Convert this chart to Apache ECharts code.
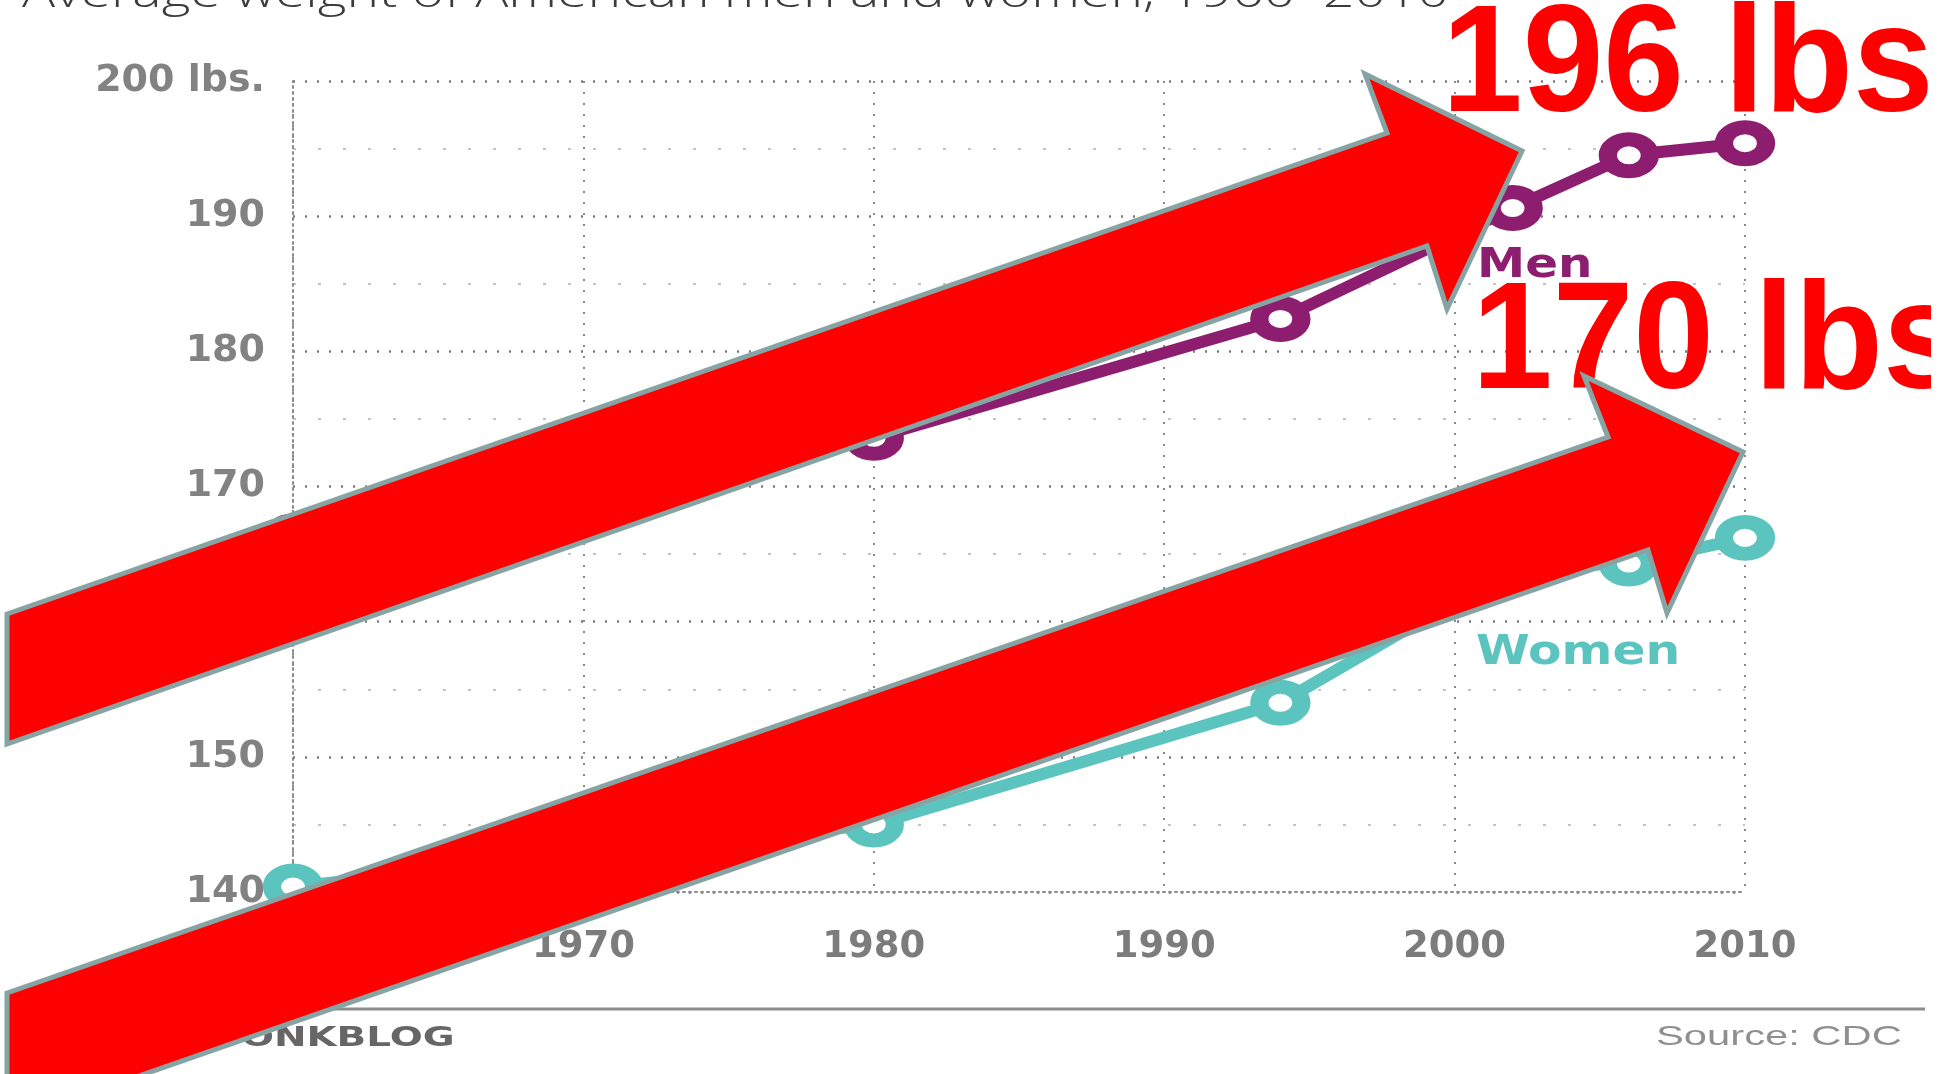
<!DOCTYPE html>
<html>
<head>
<meta charset="utf-8">
<script src="https://cdn.jsdelivr.net/npm/echarts@6/dist/echarts.min.js"></script>
<style>
  html, body { margin: 0; padding: 0; background: #fff; }
  #chart { width: 1954px; height: 1074px; }
</style>
</head>
<body>
<div id="chart"></div>
<script>
// survey years (x) and average weights in lbs
const years = [1960, 1980, 1994, 2002, 2006, 2010]
const men = [166.3, 173.6, 182.4, 190.6, 194.5, 195.4]
const women = [140.4, 145.0, 154.0, 164.0, 164.3, 166.2]
const xTicks = [1960, 1970, 1980, 1990, 2000, 2010]

const PURPLE = '#8c1d6f'
const TEAL = '#5cc4be'
const RED = '#ff0000'
const OUTLINE = '#87a4a4'

const title = 'Average weight of American men and women, 1960\u20132010'

function textWidth(str, font) {
  const ctx = document.createElement('canvas').getContext('2d')
  ctx.font = font
  return ctx.measureText(str).width
}

const titleSize = 42
const titleFont = `300 ${titleSize}px "Open Sans"`
const titleScale = 1427 / textWidth(title, titleFont)

const chart = echarts.init(document.getElementById('chart'), null, { renderer: 'canvas' })

const ringSeries = (name, vals, color) => ({
  name,
  type: 'line',
  data: years.map((y, i) => [y, vals[i]]),
  symbol: 'circle',
  symbolSize: [42, 32],
  lineStyle: { color, width: 12 },
  itemStyle: { color: '#fff', borderColor: color, borderWidth: 16 },
  emphasis: { disabled: true },
  z: 5,
})

chart.setOption({
  animation: false,
  backgroundColor: '#ffffff',
  grid: { left: 293, right: 209, top: 81, bottom: 182 },
  xAxis: {
    type: 'value',
    min: 1960,
    max: 2010,
    interval: 10,
    axisLine: { show: true, lineStyle: { color: '#8a8a8a', width: 2, type: [2, 4] } },
    axisTick: { show: false },
    axisLabel: {
      margin: 37,
      fontFamily: 'DejaVu Sans',
      fontWeight: 'bold',
      fontSize: 37,
      color: '#7c7c7c',
      formatter: (v) => xTicks.includes(v) ? String(v) : '',
    },
    splitLine: { show: true, lineStyle: { color: '#8a8a8a', width: 2, type: [2, 9] } },
  },
  yAxis: {
    type: 'value',
    min: 140,
    max: 200,
    interval: 10,
    axisLine: { show: true, lineStyle: { color: '#8a8a8a', width: 2, type: [2, 4] } },
    axisTick: { show: false },
    axisLabel: {
      margin: 28,
      fontFamily: 'DejaVu Sans',
      fontWeight: 'bold',
      fontSize: 38,
      color: '#828282',
      formatter: (v) => v === 200 ? '200 lbs.' : String(v),
    },
    splitLine: { show: true, lineStyle: { color: '#7a7a7a', width: 2.5, type: [2, 10] } },
    minorTick: { show: false, splitNumber: 2 },
    minorSplitLine: { show: true, lineStyle: { color: '#c4c4c4', width: 2, type: [3, 22] } },
  },
  series: [
    ringSeries('Men', men, PURPLE),
    ringSeries('Women', women, TEAL),
  ],
  graphic: [
    {
      type: 'text', x: 22, y: 11 - 0.388 * titleSize, scaleX: titleScale, z: 50,
      style: { text: title, font: titleFont, fill: '#3c3c3c', textVerticalAlign: 'middle' },
    },
    {
      type: 'text', x: 1477, y: 266, scaleX: 1.18, z: 50,
      style: { text: 'Men', font: 'bold 41px "DejaVu Sans"', fill: PURPLE, textVerticalAlign: 'middle' },
    },
    {
      type: 'text', x: 1476, y: 653, scaleX: 1.19, z: 50,
      style: { text: 'Women', font: 'bold 41px "DejaVu Sans"', fill: TEAL, textVerticalAlign: 'middle' },
    },
    {
      type: 'line', z: 50,
      shape: { x1: 190, y1: 1009, x2: 1925, y2: 1009 },
      style: { stroke: '#8c8c8c', lineWidth: 3 },
    },
    {
      type: 'text', x: 198, y: 1039, scaleX: 1.44, z: 50,
      style: { text: 'WONKBLOG', font: 'bold 27px "DejaVu Sans"', fill: '#666666', textVerticalAlign: 'middle' },
    },
    {
      type: 'text', x: 1656, y: 1037, scaleX: 1.49, z: 50,
      style: { text: 'Source: CDC', font: '28px "Liberation Sans"', fill: '#8f8f8f', textVerticalAlign: 'middle' },
    },
    // red overlay annotations
    {
      type: 'text', x: 1442, y: 69, scaleY: 1.05, z: 80,
      style: { text: '196 lbs', font: 'bold 145px "Liberation Sans"', fill: RED, textVerticalAlign: 'middle' },
    },
    {
      type: 'text', x: 1472, y: 346, scaleY: 1.05, z: 80,
      style: { text: '170 lbs', font: 'bold 145px "Liberation Sans"', fill: RED, textVerticalAlign: 'middle' },
    },
    {
      type: 'rect', z: 85,
      shape: { x: 1931, y: 270, width: 30, height: 140 },
      style: { fill: '#ffffff' },
    },
    {
      type: 'polygon', z: 90,
      shape: { points: [[7, 614], [1387, 133], [1365, 74], [1522, 151], [1447, 309], [1427, 246], [7, 744]] },
      style: { fill: RED, stroke: OUTLINE, lineWidth: 5, lineJoin: 'miter' },
    },
    {
      type: 'polygon', z: 90,
      shape: { points: [[7, 993], [1608, 437], [1584, 376], [1743, 452], [1667, 613], [1648, 550], [7, 1122]] },
      style: { fill: RED, stroke: OUTLINE, lineWidth: 5, lineJoin: 'miter' },
    },
  ],
})
</script>
</body>
</html>
